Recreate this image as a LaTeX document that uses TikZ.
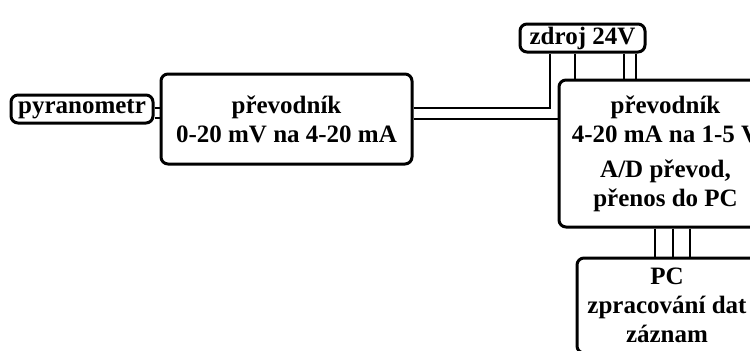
\documentclass[tikz,border=0pt]{standalone}
\usepackage{fontspec}
\setmainfont{Liberation Serif}
\usetikzlibrary{positioning}

\begin{document}
\begin{tikzpicture}[
    x=0.5pt, y=-0.5pt,
    every node/.style={font=\fontsize{12.5}{14.5}\selectfont\bfseries},
    block/.style={
        draw, line width=1.5pt, rounded corners=3.5pt, inner sep=0pt,
        align=center
    },
    wire/.style={line width=1.3pt},
]
\useasboundingbox (0,0) rectangle (750,350);
\clip (0,0) rectangle (750,350);

% =====================================================================
%  LEFT:  sensor and first converter
% =====================================================================
\node[block, minimum width=71pt, minimum height=14pt] (pyr) at (82,109)
    {pyranometr};
\node[block, minimum width=125.5pt, minimum height=45pt] (conv1) at (286.5,119)
    {převodník\\0-20 mV na 4-20 mA};

% double link sensor -> converter
\draw[wire] (pyr.east |- 0,108) -- (conv1.west |- 0,108);
\draw[wire] (pyr.east |- 0,118) -- (conv1.west |- 0,118);

% =====================================================================
%  RIGHT:  supply, second converter, PC
% =====================================================================
\node[block, minimum width=62.5pt, minimum height=14pt] (zdroj) at (582.5,38)
    {zdroj 24V};
\node[block, minimum width=106.5pt, minimum height=73.5pt] (conv2) at (665.5,153.5)
    {převodník\\4-20 mA na 1-5 V\\[3pt]A/D převod,\\přenos do PC};
\node[block, minimum width=90pt, minimum height=47.5pt] (pc) at (667,305.5)
    {PC\\zpracování dat\\záznam};

% links from first converter
\draw[wire] (conv1.east |- 0,108) -| (zdroj.south -| 550,0);
\draw[wire] (conv1.east |- 0,119) -- (conv2.west |- 0,119);

% supply -> second converter
\foreach \xa in {575,624,636}
    \draw[wire] (zdroj.south -| \xa,0) -- (conv2.north -| \xa,0);

% second converter -> PC
\foreach \xa in {655,673,690}
    \draw[wire] (conv2.south -| \xa,0) -- (pc.north -| \xa,0);

\end{tikzpicture}
\end{document}
